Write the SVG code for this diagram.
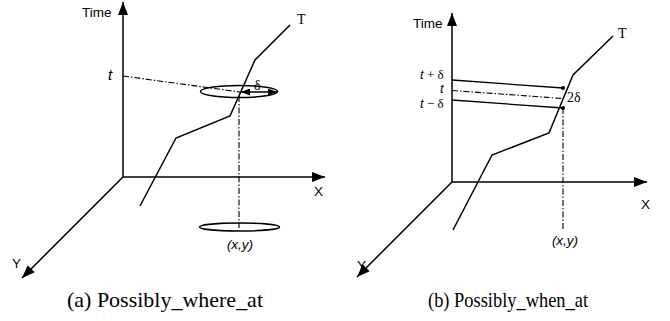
<svg xmlns="http://www.w3.org/2000/svg" width="670" height="321" viewBox="0 0 670 321">
<defs>
<marker id="ah" markerUnits="userSpaceOnUse" markerWidth="14" markerHeight="10" refX="13" refY="5" orient="auto"><path d="M0,0 L13,5 L0,10 Z" fill="#000"/></marker>
<marker id="sh" markerUnits="userSpaceOnUse" markerWidth="9" markerHeight="7" refX="9" refY="3.5" orient="auto"><path d="M0,0 L9,3.5 L0,7 Z" fill="#000"/></marker>
<marker id="shs" markerUnits="userSpaceOnUse" markerWidth="9" markerHeight="7" refX="0" refY="3.5" orient="auto"><path d="M9,0 L0,3.5 L9,7 Z" fill="#000"/></marker>
</defs>
<style>
.ax{stroke:#000;stroke-width:1.5;fill:none}
.tr{stroke:#000;stroke-width:1.5;fill:none;stroke-linejoin:miter}
.dd{stroke:#000;stroke-width:1.1;fill:none;stroke-dasharray:6,2,1.5,2}
.el{stroke:#000;stroke-width:1.5;fill:none}
.sl{stroke:#000;stroke-width:1.3;fill:none}
.sans{font-family:"Liberation Sans",Arial,sans-serif;font-size:13.5px;fill:#000}
.ital{font-family:"Liberation Sans",Arial,sans-serif;font-style:italic;font-size:13.5px;fill:#000}
.ser{font-family:"Liberation Serif","Times New Roman",serif;font-size:14px;fill:#000}
.cap{font-family:"Liberation Serif","Times New Roman",serif;font-size:21px;fill:#000}
.bl{font-family:"Liberation Sans",Arial,sans-serif;font-style:italic;font-size:13px;fill:#000}
.bls{font-family:"Liberation Serif","Times New Roman",serif;font-style:normal;font-size:13px}
</style>

<g id="panel-a">
<g id="axes-a">
<line class="ax" x1="123" y1="177" x2="123" y2="2" marker-end="url(#ah)"/>
<line class="ax" x1="123" y1="177" x2="325" y2="177" marker-end="url(#ah)"/>
<line class="ax" x1="123" y1="177" x2="22" y2="278" marker-end="url(#ah)"/>
<text class="sans" x="82" y="17">Time</text>
<text class="sans" x="314" y="196">X</text>
<text class="sans" x="12" y="268">Y</text>
</g>
<g id="traj-a">
<polyline class="tr" points="290,25 255,60 230,116 176,138 140,206"/>
<text class="ser" x="297" y="24">T</text>
</g>
<g id="ellipse-top-a">
<ellipse class="el" cx="239" cy="91.5" rx="38.5" ry="6"/>
<line class="sl" x1="241" y1="92" x2="277" y2="92" marker-start="url(#shs)" marker-end="url(#sh)"/>
<text class="ser" x="254" y="90">δ</text>
</g>
<g id="ellipse-bottom-a">
<ellipse class="el" cx="239.5" cy="227" rx="40" ry="4"/>
<text class="ital" x="240" y="249" text-anchor="middle">(x,y)</text>
</g>
<g id="connectors-a">
<line class="dd" x1="123" y1="76" x2="240" y2="92"/>
<line class="dd" x1="239" y1="96" x2="239" y2="228"/>
</g>
<text class="ital" x="108" y="80" style="font-size:15px">t</text>
<text class="cap" x="165" y="307" text-anchor="middle" textLength="196" lengthAdjust="spacingAndGlyphs">(a) Possibly_where_at</text>
</g>

<g id="panel-b">
<g id="axes-b">
<line class="ax" x1="452" y1="182" x2="452" y2="13" marker-end="url(#ah)"/>
<line class="ax" x1="452" y1="182" x2="647" y2="182" marker-end="url(#ah)"/>
<line class="ax" x1="452" y1="182" x2="357" y2="277" marker-end="url(#ah)"/>
<text class="sans" x="413" y="28">Time</text>
<text class="sans" x="641" y="209">X</text>
<text class="sans" x="357" y="270">Y</text>
</g>
<g id="traj-b">
<polyline class="tr" points="613,36 573,75 549,133 492,155 453,230"/>
<text class="ser" x="618" y="38">T</text>
</g>
<g id="band-b">
<line class="sl" x1="452" y1="80" x2="563" y2="88"/>
<line class="sl" x1="452" y1="100" x2="563" y2="108"/>
<circle cx="563" cy="88" r="2" fill="#000"/>
<circle cx="563" cy="108" r="2" fill="#000"/>
<text class="ser" x="567" y="102">2δ</text>
</g>
<g id="connectors-b">
<line class="dd" x1="452" y1="90.5" x2="563" y2="98.5"/>
<line class="dd" x1="563" y1="108" x2="563" y2="230"/>
</g>
<g id="labels-b">
<text class="bl" x="420" y="78.5">t<tspan class="bls"> + δ</tspan></text>
<text class="bl" x="440" y="93">t</text>
<text class="bl" x="420" y="107.5">t<tspan class="bls"> − δ</tspan></text>
<text class="ital" x="565" y="245" text-anchor="middle">(x,y)</text>
</g>
<text class="cap" x="508" y="307" text-anchor="middle" textLength="160" lengthAdjust="spacingAndGlyphs">(b) Possibly_when_at</text>
</g>
</svg>
